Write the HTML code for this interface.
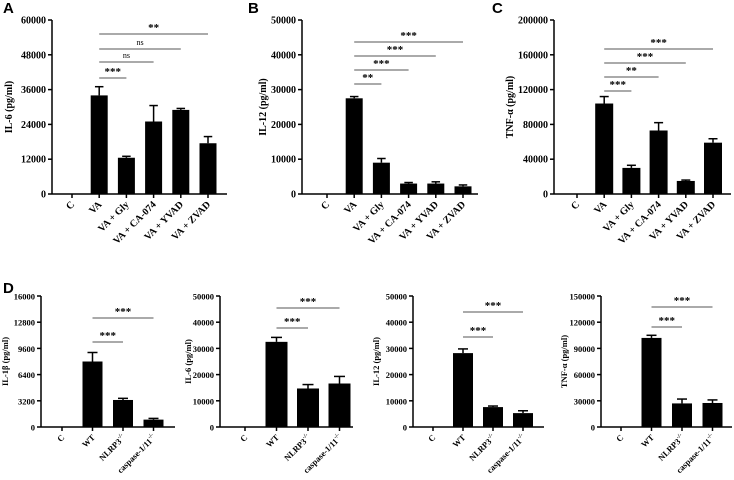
<!DOCTYPE html>
<html><head><meta charset="utf-8"><style>
html,body{margin:0;padding:0;background:#fff;}
svg{display:block;font-family:"Liberation Serif",serif;}
.t{font-weight:bold;font-size:10px;}
.L{font-family:"Liberation Sans",sans-serif;font-weight:bold;font-size:15px;}
</style></head><body>
<svg id="fig" width="734" height="480" viewBox="0 0 734 480" xmlns="http://www.w3.org/2000/svg"></svg>
<script>
// ---- data ----
const catsABC = ["C","VA","VA + Gly","VA + CA-074","VA + YVAD","VA + ZVAD"];
const catsD = ["C","WT","NLRP3","caspase-1/11"];
const valsA = [0,34000,12500,25000,29000,17500];
const errA  = [0,37000,13000,30500,29500,19800];
const valsB = [0,27500,9000,3000,3000,2200];
const errB  = [0,28000,10200,3300,3500,2600];
const valsC = [0,104000,30000,73000,15000,59000];
const errC  = [0,112000,33000,82000,16000,63500];
const valsD1 = [0,8000,3300,900];
const errD1  = [0,9100,3500,1050];
const valsD2 = [0,32500,14700,16600];
const errD2  = [0,34200,16200,19300];
const valsD3 = [0,28200,7600,5300];
const errD3  = [0,29800,8000,6200];
const valsD4 = [0,102000,27000,27500];
const errD4  = [0,105000,32000,31000];
const ticksA = [0,12000,24000,36000,48000,60000];
const ticksB = [0,10000,20000,30000,40000,50000];
const ticksC = [0,40000,80000,120000,160000,200000];
const ticksD1 = [0,3200,6400,9600,12800,16000];
const ticksD2 = [0,10000,20000,30000,40000,50000];
const ticksD3 = [0,10000,20000,30000,40000,50000];
const ticksD4 = [0,30000,60000,90000,120000,150000];
const sigA = [[1,2,"***"],[1,3,"ns"],[1,4,"ns"],[1,5,"**"]];
const sigB = [[1,2,"**"],[1,3,"***"],[1,4,"***"],[1,5,"***"]];
const sigC = [[1,2,"***"],[1,3,"**"],[1,4,"***"],[1,5,"***"]];
const sigD = [[1,2,"***"],[1,3,"***"]];

const NS="http://www.w3.org/2000/svg";
const svg=document.getElementById('fig');
function mk(tag,attrs,parent,txt){const e=document.createElementNS(NS,tag);for(const k in attrs)e.setAttribute(k,attrs[k]);if(txt!==undefined)e.textContent=txt;(parent||svg).appendChild(e);return e;}

function panel(p){
  const g=mk('g',{});
  
  
  const fs=p.fs||10;
  const max=p.ticks[p.ticks.length-1];
  const y=v=>p.y0-(v/max)*(p.y0-p.yTop);
  const x=i=>p.x0+i*p.step;
  const ya=mk('line',{x1:p.ax,y1:p.yTop,x2:p.ax,y2:p.y0,stroke:'#000','stroke-width':1.5},g);
  
  
  p.ticks.forEach(t=>{
    mk('line',{x1:p.ax-4,y1:y(t),x2:p.ax,y2:y(t),stroke:'#000','stroke-width':1.5},g);
    const tl=mk('text',{x:p.ax-6,y:y(t)+3.5,'text-anchor':'end',class:'t','font-size':fs+'px',style:'font-size:'+fs+'px'},g,String(t));
    
    
  });
  const xa=mk('line',{x1:p.ax,y1:p.y0,x2:p.axEnd,y2:p.y0,stroke:'#000','stroke-width':1.5},g);
  
  
  const yt=mk('text',{x:0,y:0,transform:`translate(${p.ytx},${(p.yTop+p.y0)/2}) rotate(-90)`,'text-anchor':'middle',class:'t',style:'font-size:'+fs+'px'},g,p.ytitle);
  
  
  p.cats.forEach((c,i)=>{
    const cx=x(i);
    mk('line',{x1:cx,y1:p.y0,x2:cx,y2:p.y0+4,stroke:'#000','stroke-width':1.5},g);
    if(p.vals[i]>0){
      mk('line',{x1:cx,y1:y(p.err[i]),x2:cx,y2:y(p.vals[i]),stroke:'#000','stroke-width':1.5},g);
      mk('line',{x1:cx-p.bw/4,y1:y(p.err[i]),x2:cx+p.bw/4,y2:y(p.err[i]),stroke:'#000','stroke-width':1.5},g);
      const b=mk('rect',{x:cx-p.bw/2,y:y(p.vals[i]),width:p.bw,height:p.y0-y(p.vals[i]),fill:'#000'},g);
      
      
    }
    const lab=mk('text',{x:0,y:0,transform:`translate(${cx+3},${p.y0+11}) rotate(-45)`,'text-anchor':'end',class:'t',style:'font-size:'+fs+'px'},g,c);
    
    
    if(p.sup && i>=2){mk('tspan',{'font-size':'6px',style:'font-size:6px',dy:'-4'},lab,'-/-');}
  });
  p.sig.forEach((s,k)=>{
    const ly=p.sigY[k];
    const l=mk('line',{x1:x(s[0]),y1:ly,x2:x(s[1])+p.sigExt,y2:ly,stroke:'#555','stroke-width':1},g);
    
    
    const st=mk('text',{x:(x(s[0])+x(s[1])+p.sigExt)/2,y:ly-(s[2]=='ns'?4:3),'text-anchor':'middle','font-size':s[2]=='ns'?'8px':'11px','font-weight':s[2]=='ns'?'normal':'bold'},g,s[2]);
    
    
  });
}
panel({name:'panel-a-il6',cats:catsABC,vals:valsA,err:errA,ticks:ticksA,ax:52,axEnd:227,yTop:20,y0:194,x0:72,step:27.2,bw:17,ytx:12,ytitle:'IL-6 (pg/ml)',sig:sigA,sigY:[78,62,49,34],sigExt:0});
panel({name:'panel-b-il12',cats:catsABC,vals:valsB,err:errB,ticks:ticksB,ax:302,axEnd:478,yTop:20,y0:194,x0:327,step:27.2,bw:17,ytx:266,ytitle:'IL-12 (pg/ml)',sig:sigB,sigY:[84,70,56,42],sigExt:0});
panel({name:'panel-c-tnf',cats:catsABC,vals:valsC,err:errC,ticks:ticksC,ax:554,axEnd:731,yTop:20,y0:194,x0:577,step:27.2,bw:18,ytx:513,ytitle:'TNF-α (pg/ml)',sig:sigC,sigY:[91,77,63,49],sigExt:0});
panel({name:'panel-d-il1b',cats:catsD,vals:valsD1,err:errD1,ticks:ticksD1,ax:41,axEnd:175,yTop:296,y0:427,x0:62,step:30.5,bw:20,ytx:8,ytitle:'IL-1β (pg/ml)',sig:sigD,sigY:[342,318],sigExt:0,sup:true,fs:8.5});
panel({name:'panel-d-il6',cats:catsD,vals:valsD2,err:errD2,ticks:ticksD2,ax:220,axEnd:353,yTop:296,y0:427,x0:245,step:31.5,bw:22,ytx:191,ytitle:'IL-6 (pg/ml)',sig:sigD,sigY:[328,308],sigExt:0,sup:true,fs:8.5});
panel({name:'panel-d-il12',cats:catsD,vals:valsD3,err:errD3,ticks:ticksD3,ax:413,axEnd:544,yTop:296,y0:427,x0:433,step:30,bw:20,ytx:379,ytitle:'IL-12 (pg/ml)',sig:sigD,sigY:[337,312],sigExt:0,sup:true,fs:8.5});
panel({name:'panel-d-tnf',cats:catsD,vals:valsD4,err:errD4,ticks:ticksD4,ax:601,axEnd:732,yTop:296,y0:427,x0:621,step:30.5,bw:20,ytx:567,ytitle:'TNF-α (pg/ml)',sig:sigD,sigY:[327,307],sigExt:0,sup:true,fs:8.5});
[['A',3,13],['B',248,13],['C',492,13],['D',3,293]].forEach(a=>{
  const t=mk('text',{x:a[1],y:a[2],class:'L'},svg,a[0]);
  
  
});
</script>
</body></html>
